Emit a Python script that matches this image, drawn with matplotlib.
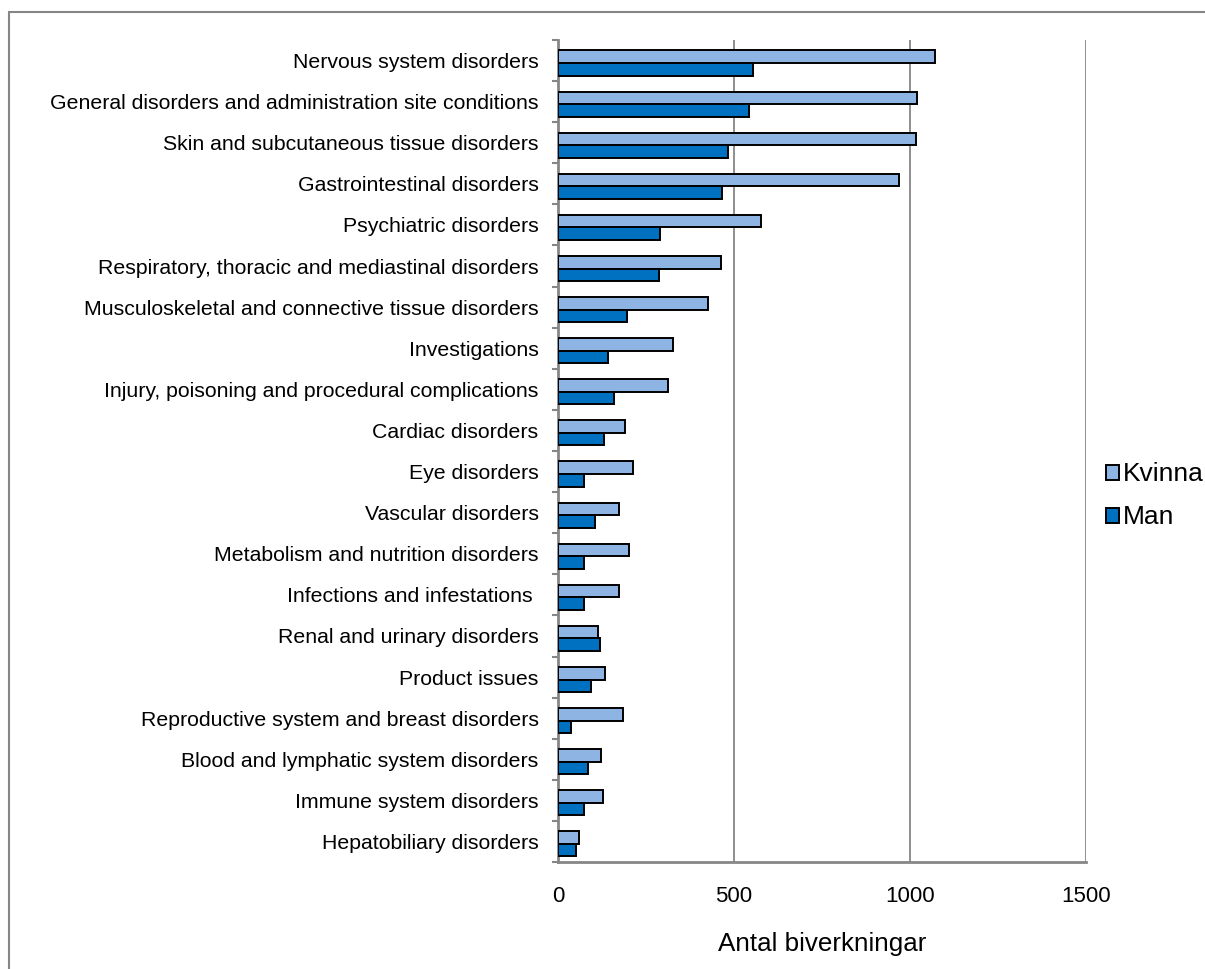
import matplotlib.pyplot as plt
from matplotlib.patches import Rectangle, Patch
import numpy as np

plt.rcParams['font.family'] = ['Liberation Sans', 'DejaVu Sans']

kategorier = [
    "Nervous system disorders",
    "General disorders and administration site conditions",
    "Skin and subcutaneous tissue disorders",
    "Gastrointestinal disorders",
    "Psychiatric disorders",
    "Respiratory, thoracic and mediastinal disorders",
    "Musculoskeletal and connective tissue disorders",
    "Investigations",
    "Injury, poisoning and procedural complications",
    "Cardiac disorders",
    "Eye disorders",
    "Vascular disorders",
    "Metabolism and nutrition disorders",
    "Infections and infestations ",
    "Renal and urinary disorders",
    "Product issues",
    "Reproductive system and breast disorders",
    "Blood and lymphatic system disorders",
    "Immune system disorders",
    "Hepatobiliary disorders",
]
kvinna = [1071, 1021, 1016, 970, 578, 464, 427, 328, 312, 190,
          212, 174, 201, 173, 114, 133, 184, 123, 129, 61]
man = [553, 542, 484, 465, 290, 288, 195, 143, 159, 130,
       73, 105, 75, 74, 118, 94, 36, 84, 75, 50]
x_ticks = [0, 500, 1000, 1500]

farg_kvinna = "#8DB4E2"
farg_man = "#0070C0"
gra = "#868686"

W, H = 1205, 969
fig = plt.figure(figsize=(W / 100, H / 100), dpi=100)
ax = fig.add_axes([558 / W, 1 - 862 / H, (1086 - 558) / W, (862 - 40) / H])

y = np.arange(len(kategorier))
h = 0.305
ax.barh(y - h / 2 + 0.06, kvinna, height=h, color=farg_kvinna,
        edgecolor="black", linewidth=1.4, zorder=3)
ax.barh(y + h / 2 + 0.06, man, height=h, color=farg_man,
        edgecolor="black", linewidth=1.4, zorder=3)

ax.set_ylim(len(kategorier) - 0.5, -0.5)
ax.set_xlim(0, 1500)

# category labels on minor ticks, tick marks between the groups
ax.set_yticks(np.arange(-0.5, len(kategorier)), labels=[])
ax.set_yticks(y, labels=kategorier, minor=True)
ax.tick_params(axis="y", which="major", length=4.5, width=1.5, color=gra, direction="out")
ax.tick_params(axis="y", which="minor", length=0, pad=14, labelsize=15.3)

ax.set_xticks(x_ticks, labels=[str(v) for v in x_ticks])
ax.tick_params(axis="x", length=0, pad=17, labelsize=16)

ax.grid(axis="x", color=gra, linewidth=1.3, zorder=0)
for s in ["top", "right"]:
    ax.spines[s].set_visible(False)
for s in ["left", "bottom"]:
    ax.spines[s].set_color(gra)
    ax.spines[s].set_linewidth(2)

ax.set_xlabel("Antal biverkningar", fontsize=18.7, labelpad=18)

handles = [Patch(facecolor=farg_kvinna, edgecolor="black", linewidth=1.4),
           Patch(facecolor=farg_man, edgecolor="black", linewidth=1.4)]
fig.legend(handles, ["Kvinna", "Man"], loc="center left",
           bbox_to_anchor=(1106 / W, 1 - 496 / H), frameon=False,
           fontsize=19, handlelength=0.5, handleheight=0.5,
           handletextpad=0.15, labelspacing=0.72, borderpad=0, borderaxespad=0)

# chart frame
fig.patches.append(Rectangle((9 / W, -0.1), 1.2, 1 - 12 / H + 0.1,
                             transform=fig.transFigure, fill=False,
                             edgecolor=gra, linewidth=1.5))

fig.savefig("out.png", dpi=100)
